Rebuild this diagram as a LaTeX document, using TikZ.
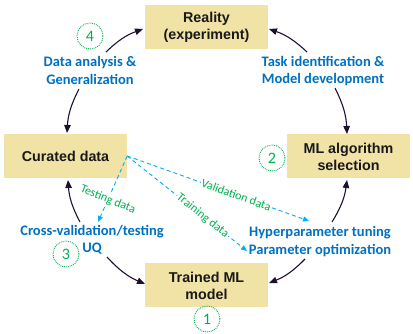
\documentclass[tikz,border=0pt]{standalone}
\usepackage{fontspec}
\setmainfont{Carlito}
\newfontfamily\boxfont{Liberation Sans}
\usetikzlibrary{arrows.meta}
\definecolor{tan}{RGB}{241,226,166}
\definecolor{lblue}{RGB}{0,112,192}
\definecolor{lgreen}{RGB}{0,176,80}
\definecolor{lcyan}{RGB}{0,176,240}
\definecolor{adark}{RGB}{32,16,48}
\tikzset{
  box/.style={fill=tan, minimum width=123pt, minimum height=44pt, inner sep=0pt, align=center,
    font=\boxfont\fontsize{14.3}{17}\selectfont\bfseries, text=black!90},
  lbl/.style={text=lblue, align=center, inner sep=0pt, font=\fontsize{14.5}{17.5}\selectfont\bfseries},
  num/.style={circle, draw=lgreen, densely dotted, line width=0.9pt, minimum size=26pt, inner sep=0pt,
    text=lgreen, font=\fontsize{16}{16}\selectfont},
  arr/.style={draw=adark, line width=1.1pt, -{Triangle[length=8pt,width=6.5pt]}},
  darr/.style={draw=lcyan, line width=0.9pt, dash pattern=on 4pt off 3pt, -{Triangle[length=6pt,width=5pt]}},
  glbl/.style={text=lgreen, fill=white, inner sep=1pt, font=\fontsize{12}{12}\selectfont},
}
\begin{document}
\begin{tikzpicture}[x=1pt,y=1pt]
\useasboundingbox (0,0) rectangle (413,-334);
% boxes
\node[box] (real) at (206.5,-27) {Reality\\(experiment)};
\node[box] (cur) at (65.5,-156) {Curated data};
\node[box] (mls) at (348.5,-156.5) {ML algorithm\\selection};
\node[box] (trn) at (206.5,-285.5) {Trained ML\\model};
% labels
\node[lbl] (da) at (90,-70.5) {Data analysis \&\\Generalization};
\node[lbl] (ti) at (323,-71) {Task identification \&\\Model development};
\node[lbl] (cv) at (92,-240) {Cross-validation/testing\\UQ};
\node[lbl] (hp) at (320,-241.5) {Hyperparameter tuning\\Parameter optimization};
% numbers
\node[num] (n4) at (90,-36) {4};
\node[num] (n2) at (272,-158) {2};
\node[num] (n3) at (66,-254) {3};
\node[num] (n1) at (207,-319) {1};
% arc end points
\coordinate (da1) at (106,-52);
\coordinate (da2) at (79,-89);
\coordinate (ti1) at (307,-52);
\coordinate (ti2) at (335,-88);
\coordinate (hp1) at (332,-222);
\coordinate (hp2) at (305,-259);
\coordinate (cv1) at (80,-222);
\coordinate (cv2) at (107,-257);
\coordinate (realw) at (143,-29);
\coordinate (reale) at (269,-29);
\coordinate (curn) at (67,-133);
\coordinate (curs) at (68,-180);
\coordinate (mlsn) at (347,-134);
\coordinate (mlss) at (347,-180);
\coordinate (trnw) at (145,-284);
\coordinate (trne) at (269,-283);
\draw[arr] (da1) to[bend left=12] (realw);
\draw[arr] (da2) to[bend right=12] (curn);
\draw[arr] (ti1) to[bend right=12] (reale);
\draw[arr] (ti2) to[bend left=12] (mlsn);
\draw[arr] (hp1) to[bend right=12] (mlss);
\draw[arr] (hp2) to[bend left=12] (trne);
\draw[arr] (cv1) to[bend left=12] (curs);
\draw[arr] (cv2) to[bend right=12] (trnw);
% dashed data arrows
\coordinate (tst) at (98,-222);
\coordinate (tra) at (247,-251);
\coordinate (val) at (309,-221);
\draw[darr] (cur.east) -- node[glbl, pos=0.66, rotate=-22] {Testing data} (tst);
\draw[darr] (cur.east) -- node[glbl, pos=0.63, sloped] {Training data} (tra);
\draw[darr] (cur.east) -- node[glbl, pos=0.6, sloped] {Validation data} (val);
\end{tikzpicture}
\end{document}
